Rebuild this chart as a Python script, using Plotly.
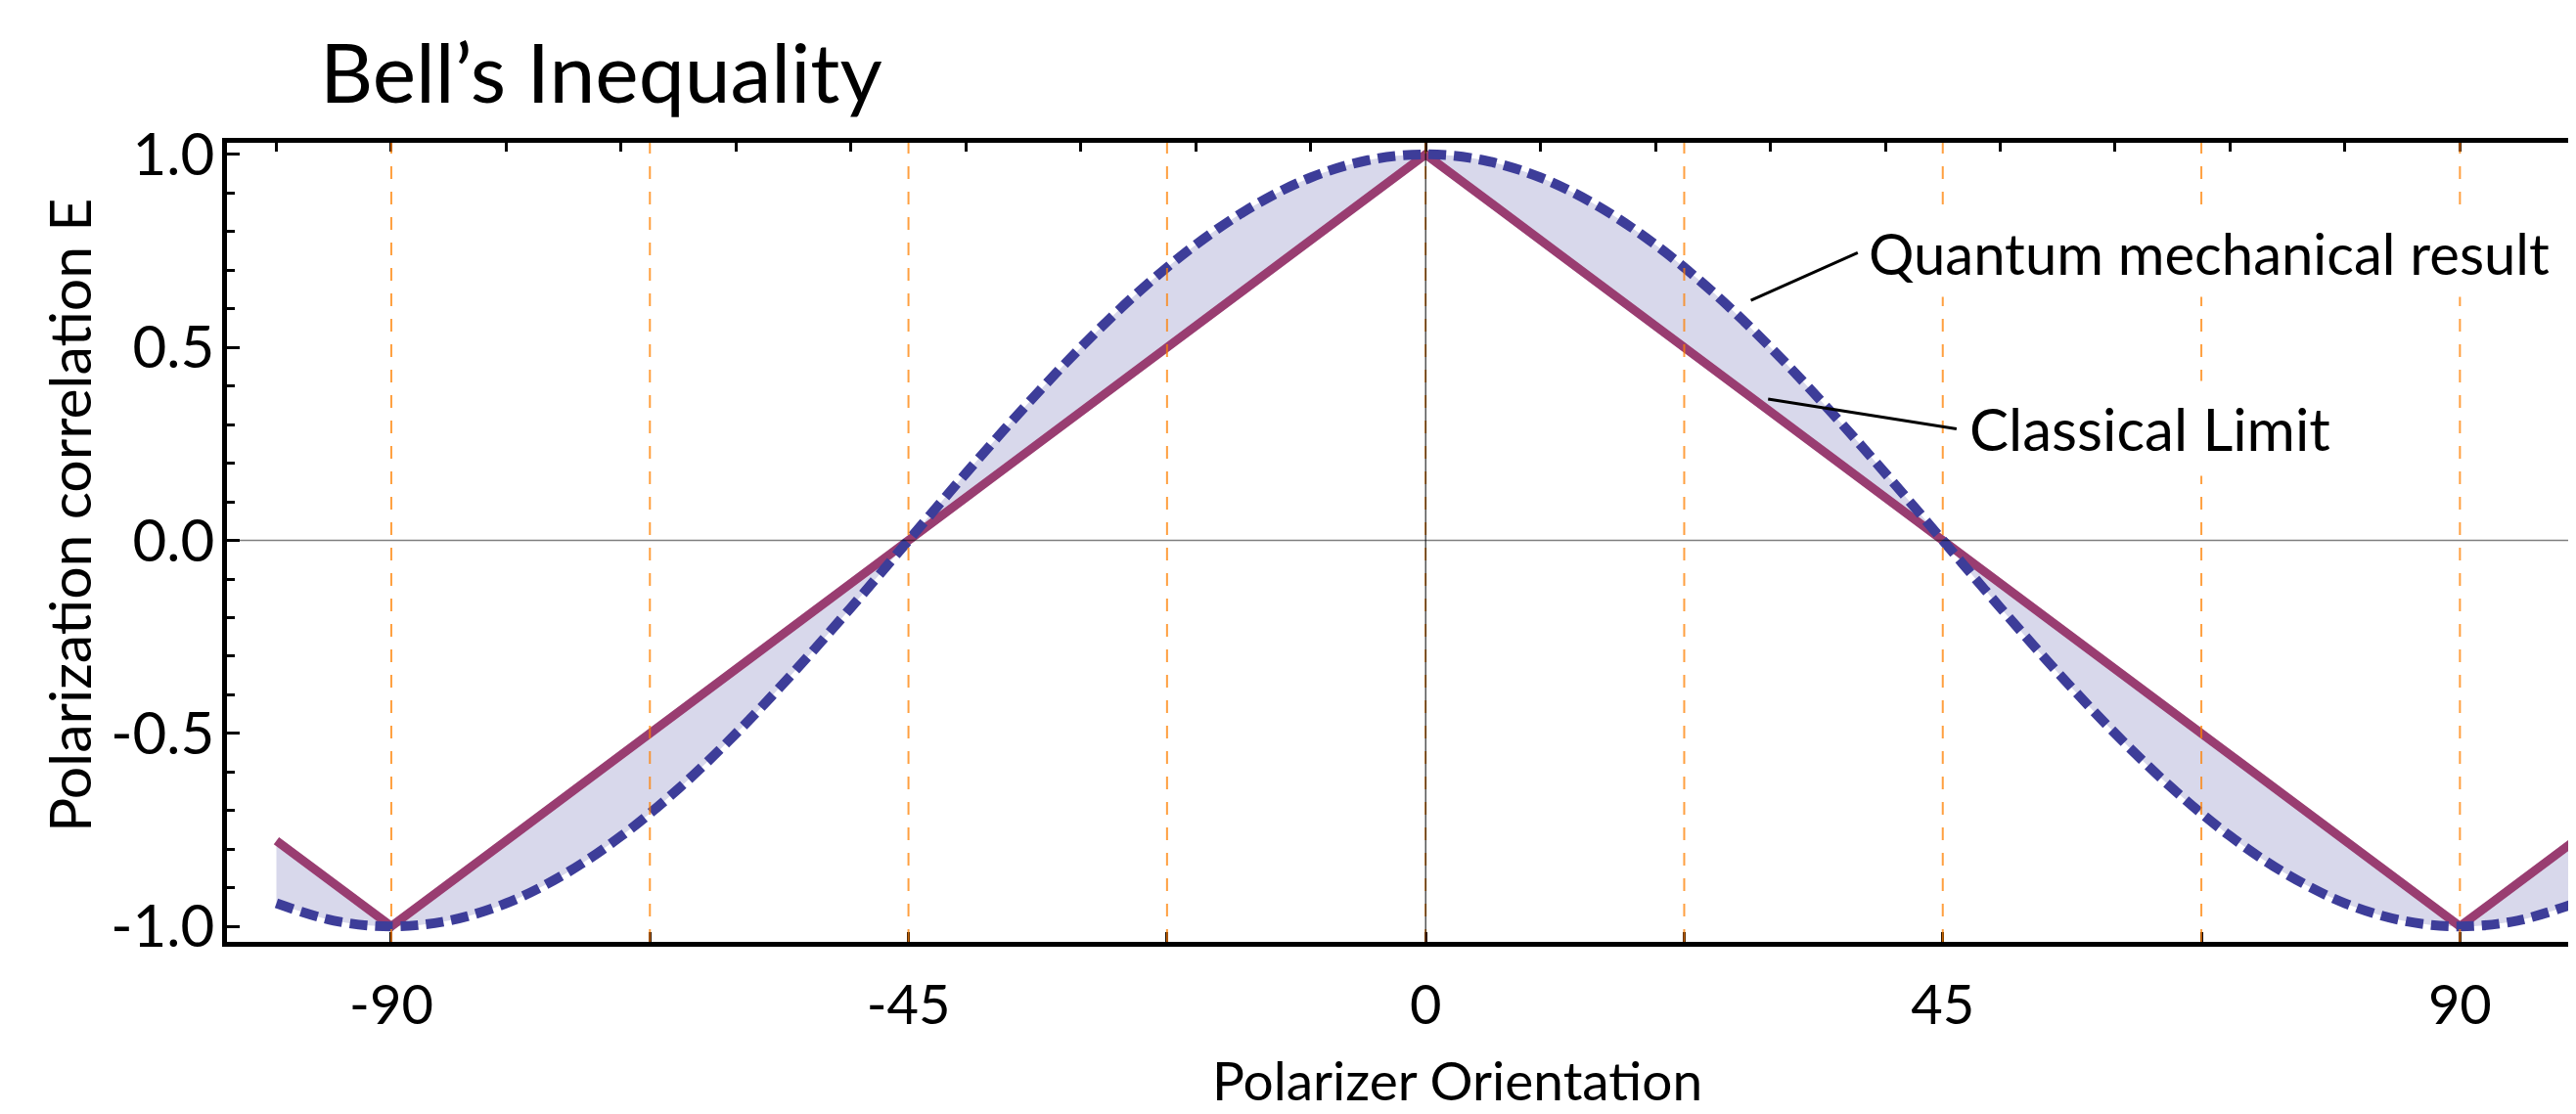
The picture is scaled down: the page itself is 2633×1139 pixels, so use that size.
import plotly.graph_objects as go

# ---- data ----
angles = [-100, -95, -90, -85, -80, -75, -70, -65, -60, -55, -50, -45, -40, -35, -30,
          -25, -20, -15, -10, -5, 0, 5, 10, 15, 20, 25, 30, 35, 40, 45, 50, 55, 60,
          65, 70, 75, 80, 85, 90, 95, 100]
quantum_E = [-0.94, -0.985, -1.0, -0.985, -0.94, -0.866, -0.766, -0.643, -0.5, -0.342,
             -0.174, 0.0, 0.174, 0.342, 0.5, 0.643, 0.766, 0.866, 0.94, 0.985, 1.0,
             0.985, 0.94, 0.866, 0.766, 0.643, 0.5, 0.342, 0.174, 0.0, -0.174, -0.342,
             -0.5, -0.643, -0.766, -0.866, -0.94, -0.985, -1.0, -0.985, -0.94]
classical_angles = [-100, -90, 0, 90, 100]
classical_E = [-0.778, -1.0, 1.0, -1.0, -0.778]

guide_angles = [-90, -67.5, -45, -22.5, 0, 22.5, 45, 67.5, 90]
x_tick_vals = [-90, -45, 0, 45, 90]
x_tick_text = ["-90", "-45", "0", "45", "90"]
y_tick_vals = [-1.0, -0.5, 0.0, 0.5, 1.0]
y_tick_text = ["-1.0", "-0.5", "0.0", "0.5", "1.0"]

QUANTUM_COLOR = "rgb(61,61,153)"
CLASSICAL_COLOR = "rgb(153,61,113)"
FILL_COLOR = "rgb(216,216,235)"
GUIDE_COLOR = "rgba(255,128,0,0.75)"
FONT = "Lato"

# page body adds an 8px offset; figure is sized so the plot lands in place
W, H = 2625, 1131
OFF = 8
ML, MT, MB = 232 - OFF, 146 - OFF, H - (963 - OFF)
PW, PH = W - ML, H - MT - MB

fig = go.Figure()

# filled region between the two curves
fig.add_trace(go.Scatter(x=classical_angles, y=classical_E, mode="lines",
                         line=dict(width=0, color=CLASSICAL_COLOR),
                         hoverinfo="skip", showlegend=False))
fig.add_trace(go.Scatter(x=angles, y=quantum_E, mode="lines", fill="tonexty",
                         fillcolor=FILL_COLOR,
                         line=dict(width=0, color=QUANTUM_COLOR, shape="spline"),
                         hoverinfo="skip", showlegend=False))
# visible curves
fig.add_trace(go.Scatter(x=classical_angles, y=classical_E, mode="lines",
                         line=dict(width=9, color=CLASSICAL_COLOR),
                         name="Classical Limit", showlegend=False))
fig.add_trace(go.Scatter(x=angles, y=quantum_E, mode="lines",
                         line=dict(width=10, color=QUANTUM_COLOR, shape="spline",
                                   dash="18px,8px"),
                         name="Quantum mechanical result", showlegend=False))
# invisible trace to carry the top frame axis
fig.add_trace(go.Scatter(x=classical_angles, y=classical_E, xaxis="x2", mode="lines",
                         line=dict(width=0), opacity=0, hoverinfo="skip",
                         showlegend=False))

# guide lines drawn above the curves
shapes = []
for a in guide_angles:
    shapes.append(dict(type="line", xref="x", yref="paper", x0=a, x1=a, y0=0, y1=1,
                       layer="above",
                       line=dict(color=GUIDE_COLOR, width=2, dash="13px,13px")))
shapes.append(dict(type="line", xref="paper", yref="y", x0=0, x1=1, y0=0, y1=0,
                   layer="above", line=dict(color="rgba(0,0,0,0.5)", width=1.5)))
shapes.append(dict(type="line", xref="x", yref="paper", x0=0, x1=0, y0=0, y1=1,
                   layer="above", line=dict(color="black", width=1)))

x_range = [-104.3, 100.1]


def px_x(page_x):
    return (page_x - OFF - ML) / PW


def px_y(page_y):
    return (H - MB - (page_y - OFF)) / PH


fig.update_layout(
    width=W, height=H,
    margin=dict(l=ML, r=0, t=MT, b=MB, pad=0),
    paper_bgcolor="white", plot_bgcolor="white",
    font=dict(family=FONT, color="black"),
    title=dict(text="Bell’s Inequality", font=dict(size=84, family=FONT),
               x=px_x(327), xref="paper", xanchor="left",
               y=1 - (76 - OFF) / H, yref="container", yanchor="middle"),
    shapes=shapes,
    xaxis=dict(range=x_range, tickmode="array", tickvals=x_tick_vals,
               ticktext=x_tick_text, ticks="inside", ticklen=10, tickwidth=2.5,
               tickcolor="black", showline=True, linewidth=4.5, linecolor="black",
               showgrid=False, zeroline=False, tickfont=dict(size=56),
               ticklabelstandoff=12,
               minor=dict(tickmode="linear", tick0=0, dtick=22.5, ticks="inside",
                          ticklen=10, tickwidth=2.5, tickcolor="black",
                          showgrid=False)),
    xaxis2=dict(range=x_range, overlaying="x", side="top", anchor="y",
                tickmode="linear", tick0=0, dtick=10, ticks="inside", ticklen=9,
                tickwidth=2.5, tickcolor="black", showline=True, linewidth=4.5,
                linecolor="black", showticklabels=False, showgrid=False,
                zeroline=False),
    yaxis=dict(range=[-1.04, 1.03], tickmode="array", tickvals=y_tick_vals,
               ticktext=y_tick_text, ticks="inside", ticklen=13, tickwidth=2.5,
               tickcolor="black", showline=True, linewidth=4.5, linecolor="black",
               showgrid=False, zeroline=False, tickfont=dict(size=60),
               ticklabelstandoff=-4,
               minor=dict(tickmode="linear", tick0=0, dtick=0.1, ticks="inside",
                          ticklen=8, tickwidth=2.5, tickcolor="black",
                          showgrid=False)),
    annotations=[
        dict(text="Polarizer Orientation", xref="paper", yref="paper",
             x=px_x(887 * 2633 / 1568), y=px_y(1104), xanchor="center",
             yanchor="middle", showarrow=False, font=dict(size=55, family=FONT)),
        dict(text="Polarization correlation E", xref="paper", yref="paper",
             x=px_x(70), y=px_y(527), xanchor="center",
             yanchor="middle", textangle=-90, showarrow=False,
             font=dict(size=59, family=FONT)),
        dict(text="Quantum mechanical result", xref="x", yref="y",
             x=28.3, y=0.622, axref="x", ayref="y", ax=37.6, ay=0.745,
             xanchor="left", yanchor="middle", showarrow=True, arrowhead=0,
             arrowwidth=3, arrowcolor="black", standoff=0, bgcolor="white",
             borderpad=10, font=dict(size=58, family=FONT)),
        dict(text="Classical Limit", xref="x", yref="y",
             x=29.8, y=0.366, axref="x", ayref="y", ax=46.2, ay=0.289,
             xanchor="left", yanchor="middle", showarrow=True, arrowhead=0,
             arrowwidth=3, arrowcolor="black", standoff=0, bgcolor="white",
             borderpad=12, font=dict(size=60, family=FONT)),
    ],
)

fig.write_html("out.html")
